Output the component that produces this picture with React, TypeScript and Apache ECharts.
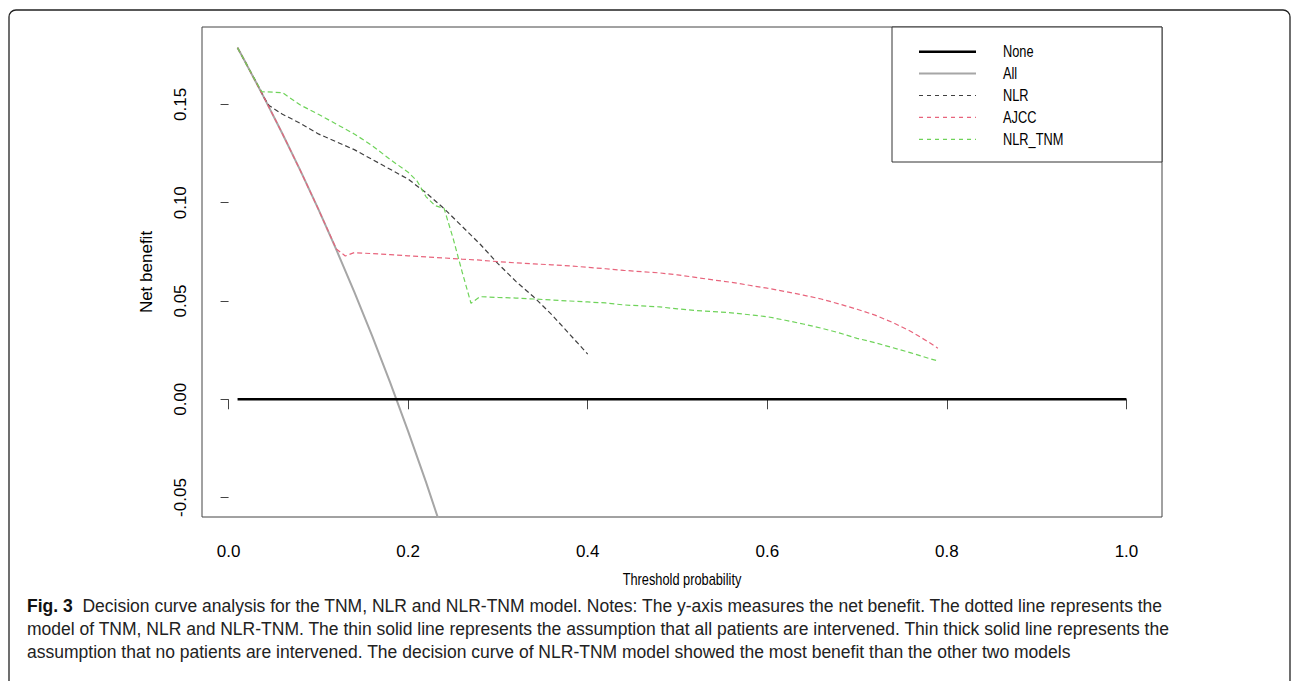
import React, { useEffect, useRef } from "react";
import * as echarts from "echarts";

const xTicks = [0, 0.2, 0.4, 0.6, 0.8, 1.0];
const yTicks = [-0.05, 0, 0.05, 0.1, 0.15];

const noneX = [0.01, 1.0];
const noneY = [0, 0];

const allX = [0.01, 0.02, 0.04, 0.06, 0.08, 0.1, 0.12, 0.14, 0.16, 0.18, 0.2, 0.22, 0.24];
const allY = [0.1788, 0.1704, 0.1531, 0.1351, 0.1163, 0.0967, 0.0761, 0.0546, 0.0321, 0.0085, -0.0163, -0.0423, -0.0697];

const nlrX = [0.01, 0.02, 0.03, 0.04, 0.045, 0.06, 0.08, 0.1, 0.12, 0.14, 0.16, 0.18, 0.2, 0.22, 0.24, 0.26, 0.28, 0.3, 0.32, 0.34, 0.36, 0.38, 0.4];
const nlrY = [0.1788, 0.1704, 0.162, 0.1531, 0.1495, 0.145, 0.1404, 0.135, 0.131, 0.127, 0.122, 0.117, 0.112, 0.105, 0.097, 0.088, 0.079, 0.069, 0.06, 0.052, 0.043, 0.033, 0.023];

const ajccX = [0.01, 0.02, 0.04, 0.06, 0.08, 0.1, 0.12, 0.13, 0.14, 0.16, 0.18, 0.2, 0.22, 0.24, 0.26, 0.28, 0.3, 0.32, 0.34, 0.36, 0.38, 0.4, 0.42, 0.44, 0.46, 0.48, 0.5, 0.52, 0.54, 0.56, 0.58, 0.6, 0.62, 0.64, 0.66, 0.68, 0.7, 0.72, 0.74, 0.76, 0.78, 0.79];
const ajccY = [0.1788, 0.1704, 0.1531, 0.1351, 0.1163, 0.0967, 0.0765, 0.0729, 0.0746, 0.0741, 0.0736, 0.073, 0.0724, 0.0719, 0.0713, 0.0708, 0.07, 0.0694, 0.0689, 0.0684, 0.0679, 0.0671, 0.0664, 0.0656, 0.0649, 0.0643, 0.0633, 0.062, 0.0607, 0.0595, 0.058, 0.0565, 0.0548, 0.053, 0.051, 0.0485, 0.0458, 0.0428, 0.039, 0.0345, 0.029, 0.026];

const tnmX = [0.01, 0.02, 0.03, 0.037, 0.06, 0.08, 0.1, 0.12, 0.14, 0.16, 0.18, 0.2, 0.21, 0.22, 0.23, 0.24, 0.25, 0.26, 0.27, 0.28, 0.3, 0.32, 0.34, 0.36, 0.38, 0.4, 0.42, 0.44, 0.46, 0.48, 0.5, 0.52, 0.54, 0.56, 0.58, 0.6, 0.62, 0.64, 0.66, 0.68, 0.7, 0.72, 0.74, 0.76, 0.78, 0.79];
const tnmY = [0.1788, 0.1704, 0.162, 0.1565, 0.156, 0.1497, 0.145, 0.14, 0.135, 0.129, 0.122, 0.1155, 0.111, 0.103, 0.0985, 0.0971, 0.082, 0.065, 0.0488, 0.0522, 0.0518, 0.0515, 0.051, 0.0505, 0.05, 0.0495, 0.049, 0.048, 0.0475, 0.047, 0.046, 0.0452, 0.0446, 0.044, 0.043, 0.042, 0.0402, 0.0383, 0.0362, 0.0338, 0.031, 0.0288, 0.0262, 0.0236, 0.0208, 0.0195];

const seriesNames = ["None", "All", "NLR", "AJCC", "NLR_TNM"];
const seriesColors = ["#000000", "#a6a6a6", "#404040", "#e8647c", "#6fd35a"];
const seriesWidths = [2.5, 2, 1.2, 1.2, 1.2];
const seriesDashed = [false, false, true, true, true];

const xTitle = "Threshold probability";
const yTitle = "Net benefit";
const figLabel = "Fig. 3";
const captionLines = [
  "Decision curve analysis for the TNM, NLR and NLR-TNM model. Notes: The y-axis measures the net benefit. The dotted line represents the",
  "model of TNM, NLR and NLR-TNM. The thin solid line represents the assumption that all patients are intervened. Thin thick solid line represents the",
  "assumption that no patients are intervened. The decision curve of NLR-TNM model showed the most benefit than the other two models",
];

const zip = (xs: number[], ys: number[]) => xs.map((x, i) => [x, ys[i]]);

export default function App() {
  const ref = useRef<HTMLDivElement>(null);
  useEffect(() => {
    if (!ref.current) return;
    const chart = echarts.init(ref.current, undefined, { renderer: "svg" });
    const datasets = [zip(noneX, noneY), zip(allX, allY), zip(nlrX, nlrY), zip(ajccX, ajccY), zip(tnmX, tnmY)];
    const sans = "'Liberation Sans', Arial, sans-serif";

    const legendEls: any[] = [
      { type: "rect", shape: { x: 892, y: 27, width: 270, height: 135 }, style: { fill: "#fff", stroke: "#333", lineWidth: 1 }, z: 10 },
    ];
    seriesNames.forEach((n, i) => {
      const y = 51.7 + i * 21.9;
      legendEls.push({
        type: "line",
        shape: { x1: 919, y1: y, x2: 976, y2: y },
        style: { stroke: seriesColors[i], lineWidth: seriesWidths[i], lineDash: seriesDashed[i] ? [4, 4] : null },
        z: 11,
      });
      legendEls.push({
        type: "text",
        x: 1003,
        y: y,
        scaleX: 0.8,
        style: { text: n, fill: "#000", font: `16px ${sans}`, verticalAlign: "middle", align: "left" },
        z: 11,
      });
    });

    const captionEls: any[] = captionLines.map((t, i) => ({
      type: "text",
      x: 27,
      y: 606 + i * 23,
      style: {
        text: i === 0 ? `{b|${figLabel}}  ${t}` : t,
        rich: { b: { fontWeight: "bold", fontSize: 17.5, fontFamily: sans, fill: "#111" } },
        fontSize: 17.5,
        fontFamily: sans,
        fill: "#222",
        verticalAlign: "middle",
        align: "left",
      },
    }));

    chart.setOption({
      animation: false,
      grid: { left: 202, top: 27, width: 960, height: 490, show: true, borderColor: "#444", borderWidth: 1, backgroundColor: "transparent" },
      xAxis: {
        type: "value",
        min: -0.0296,
        max: 1.0396,
        axisLine: { show: false },
        splitLine: { show: false },
        axisTick: { show: true, length: 10, lineStyle: { color: "#444" }, customValues: xTicks },
        axisLabel: { customValues: xTicks, formatter: (v: number) => v.toFixed(1), fontFamily: sans, fontSize: 17, color: "#000", margin: 26 },
      },
      yAxis: {
        type: "value",
        min: -0.0599,
        max: 0.1894,
        name: yTitle,
        nameLocation: "middle",
        nameGap: 47,
        nameRotate: 90,
        nameTextStyle: { fontFamily: sans, fontSize: 17, color: "#000" },
        axisLine: { show: false },
        splitLine: { show: false },
        axisTick: { show: true, length: 8, lineStyle: { color: "#444" }, customValues: yTicks },
        axisLabel: { customValues: yTicks, rotate: 90, formatter: (v: number) => v.toFixed(2), fontFamily: sans, fontSize: 17, color: "#000", margin: 13 },
      },
      series: seriesNames.map((n, i) => ({
        name: n,
        type: "line",
        data: datasets[i],
        showSymbol: false,
        symbol: "none",
        clip: true,
        z: i === 0 ? 3 : i === 1 ? 2 : 4,
        lineStyle: { color: seriesColors[i], width: seriesWidths[i], type: seriesDashed[i] ? [5, 3] : "solid" },
      })),
      graphic: [
        { type: "rect", shape: { x: 9, y: 10, width: 1281, height: 690, r: 7 }, style: { fill: "none", stroke: "#222", lineWidth: 1.3 }, z: 0 },
        {
          type: "text",
          x: 682,
          y: 579,
          scaleX: 0.8,
          style: { text: xTitle, font: `16px ${sans}`, fill: "#000", align: "center", verticalAlign: "middle" },
        },
        ...legendEls,
        ...captionEls,
      ],
    });
    return () => chart.dispose();
  }, []);
  return <div ref={ref} style={{ position: "absolute", left: 0, top: 0, width: 1293, height: 681, background: "#fff" }} />;
}
